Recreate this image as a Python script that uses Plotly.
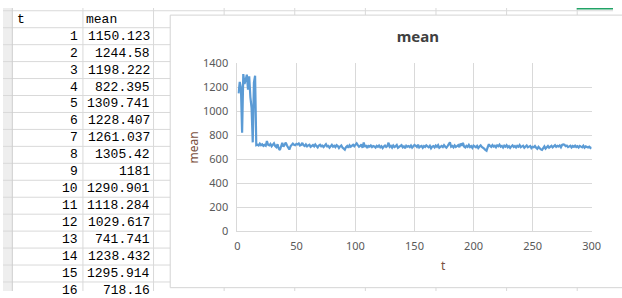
import plotly.graph_objects as go

W, H = 622, 298

# ---------------- data ----------------
mean = [
    1150.123, 1244.58, 1198.222, 822.395, 1309.741, 1228.407, 1261.037, 1305.42,
    1181, 1290.901, 1118.284, 1029.617, 741.741, 1238.432, 1295.914, 718.16,
    722, 716, 731, 718, 725, 712, 720, 714, 752, 721,
    716, 728, 709, 724, 733, 711, 702, 726, 690, 678,
    712, 738, 705, 721, 740, 716, 695, 682, 708, 726,
    731, 722, 718, 729, 724, 733, 716, 721, 737, 718,
    712, 725, 709, 717, 722, 704, 713, 719, 708, 724,
    711, 700, 716, 722, 709, 714, 703, 718, 726, 708,
    712, 697, 715, 721, 706, 713, 702, 719, 711, 695,
    708, 716, 699, 688, 681, 702, 712, 697, 718, 706,
    714, 721, 709, 727, 733, 718, 705, 712, 724, 696,
    741, 703, 719, 695, 712, 706, 716, 702, 711, 707,
    698, 713, 705, 716, 701, 710, 694, 707, 715, 703,
    711, 739, 704, 712, 698, 716, 703, 709, 720, 697,
    705, 712, 718, 700, 708, 693, 714, 706, 711, 702,
    715, 698, 709, 720, 713, 704, 722, 699, 707, 712,
    696, 710, 703, 716, 708, 701, 713, 692, 706, 711,
    700, 715, 705, 718, 697, 709, 712, 703, 719, 706,
    698, 711, 724, 742, 705, 712, 700, 716, 703, 709,
    718, 702, 731, 714, 737, 706, 699, 713, 705, 720,
    702, 710, 696, 715, 708, 701, 712, 694, 707, 716,
    703, 698, 689, 678, 672, 701, 726, 711, 704, 719,
    707, 713, 700, 717, 709, 722, 705, 712, 698, 714,
    706, 718, 701, 710, 695, 708, 716, 703, 711, 699,
    713, 705, 719, 702, 709, 714, 697, 706, 716, 700,
    708, 712, 694, 705, 701, 711, 697, 688, 704, 692,
    683, 679, 696, 708, 690, 702, 711, 697, 706, 713,
    700, 709, 718, 704, 712, 707, 716, 701, 720, 724,
    722, 710, 715, 702, 708, 713, 699, 711, 705, 714,
    703, 709, 698, 712, 706, 701, 714, 697, 708, 703,
    699, 706, 694, 701,
]
t = list(range(1, len(mean) + 1))

x_ticks = [0, 50, 100, 150, 200, 250, 300]
y_ticks = [0, 200, 400, 600, 800, 1000, 1200, 1400]
table_headers = ["t", "mean"]
table_rows = 16


def fmt(v):
    s = "%.3f" % v
    return s.rstrip("0").rstrip(".")


def px(x):
    return x / W


def py(y):
    return 1 - y / H


fig = go.Figure()
fig.add_trace(go.Scatter(
    x=t, y=mean, mode="lines",
    line=dict(color="#5b9bd5", width=2.2),
    hoverinfo="skip", showlegend=False,
))

shapes = []
grid_col = "#d9d9d9"
# row-header column
shapes.append(dict(type="rect", xref="paper", yref="paper",
                   x0=px(0), x1=px(9.5), y0=py(H), y1=py(0),
                   fillcolor="#eeeeee", line=dict(width=0), layer="below"))
# horizontal sheet lines
k = 0
while True:
    yy = 2.9 + 17.85 * k
    if yy > H:
        break
    shapes.append(dict(type="line", xref="paper", yref="paper",
                       x0=0, x1=1, y0=py(yy), y1=py(yy),
                       line=dict(color=grid_col, width=1), layer="below"))
    k += 1
# vertical sheet lines
for xx in [9.5, 81.5, 153.5, 225.5, 297.5, 369.5, 441.5, 513.5, 585.5]:
    shapes.append(dict(type="line", xref="paper", yref="paper",
                       x0=px(xx), x1=px(xx), y0=0, y1=1,
                       line=dict(color="#cfcfcf" if xx < 10 else grid_col, width=1),
                       layer="below"))
# selected cell marker (green)
shapes.append(dict(type="rect", xref="paper", yref="paper",
                   x0=px(585), x1=px(622), y0=py(1.5), y1=py(0),
                   fillcolor="#21a366", line=dict(width=0), layer="below"))
# chart box
shapes.append(dict(type="rect", xref="paper", yref="paper",
                   x0=px(170.5), x1=px(660), y0=py(294.5), y1=py(7.5),
                   fillcolor="white", line=dict(color="#d4d4d4", width=1),
                   layer="below"))

annotations = []
mono = dict(family="Liberation Mono", size=13, color="#000000")
annotations.append(dict(xref="paper", yref="paper", x=px(12), y=py(11.8),
                        text=table_headers[0], showarrow=False, xanchor="left",
                        yanchor="middle", font=mono))
annotations.append(dict(xref="paper", yref="paper", x=px(83), y=py(11.8),
                        text=table_headers[1], showarrow=False, xanchor="left",
                        yanchor="middle", font=mono))
for i in range(table_rows):
    yc = 11.8 + 17.85 * (i + 1)
    annotations.append(dict(xref="paper", yref="paper", x=px(79), y=py(yc),
                            text=str(t[i]), showarrow=False, xanchor="right",
                            yanchor="middle", font=mono))
    annotations.append(dict(xref="paper", yref="paper", x=px(152), y=py(yc),
                            text=fmt(mean[i]), showarrow=False, xanchor="right",
                            yanchor="middle", font=mono))

axis_title_font = dict(family="Noto Sans", size=12, color="#7b5040")
annotations.append(dict(xref="paper", yref="paper", x=px(194), y=py(146.5),
                        text="mean", textangle=-90, showarrow=False,
                        xanchor="center", yanchor="middle", font=axis_title_font))
annotations.append(dict(xref="paper", yref="paper", x=px(449), y=py(271),
                        text="t", showarrow=False,
                        xanchor="center", yanchor="middle", font=axis_title_font))

tick_font = dict(family="Noto Sans", size=11, color="#595959")
fig.update_layout(
    width=W, height=H,
    margin=dict(l=0, r=0, t=0, b=0),
    paper_bgcolor="white",
    plot_bgcolor="rgba(0,0,0,0)",
    title=dict(text="mean", x=px(423), y=py(30), xanchor="center", yanchor="middle",
               xref="paper", yref="paper",
               font=dict(family="Noto Sans", size=15, color="#404040", weight=700)),
    xaxis=dict(domain=[px(239), px(600.2)], range=[0, 300], tickvals=x_ticks,
               showgrid=True, gridcolor=grid_col, gridwidth=1,
               showline=True, linecolor=grid_col, zeroline=False,
               ticks="", tickfont=tick_font, ticklabelstandoff=4, fixedrange=True),
    yaxis=dict(domain=[py(235.3), py(58.2)], range=[0, 1400], tickvals=y_ticks,
               showgrid=True, gridcolor=grid_col, gridwidth=1,
               showline=True, linecolor=grid_col, zeroline=False,
               ticks="", tickfont=tick_font, ticklabelstandoff=6, fixedrange=True),
    shapes=shapes,
    annotations=annotations,
    showlegend=False,
)

fig.write_html("out.html")
